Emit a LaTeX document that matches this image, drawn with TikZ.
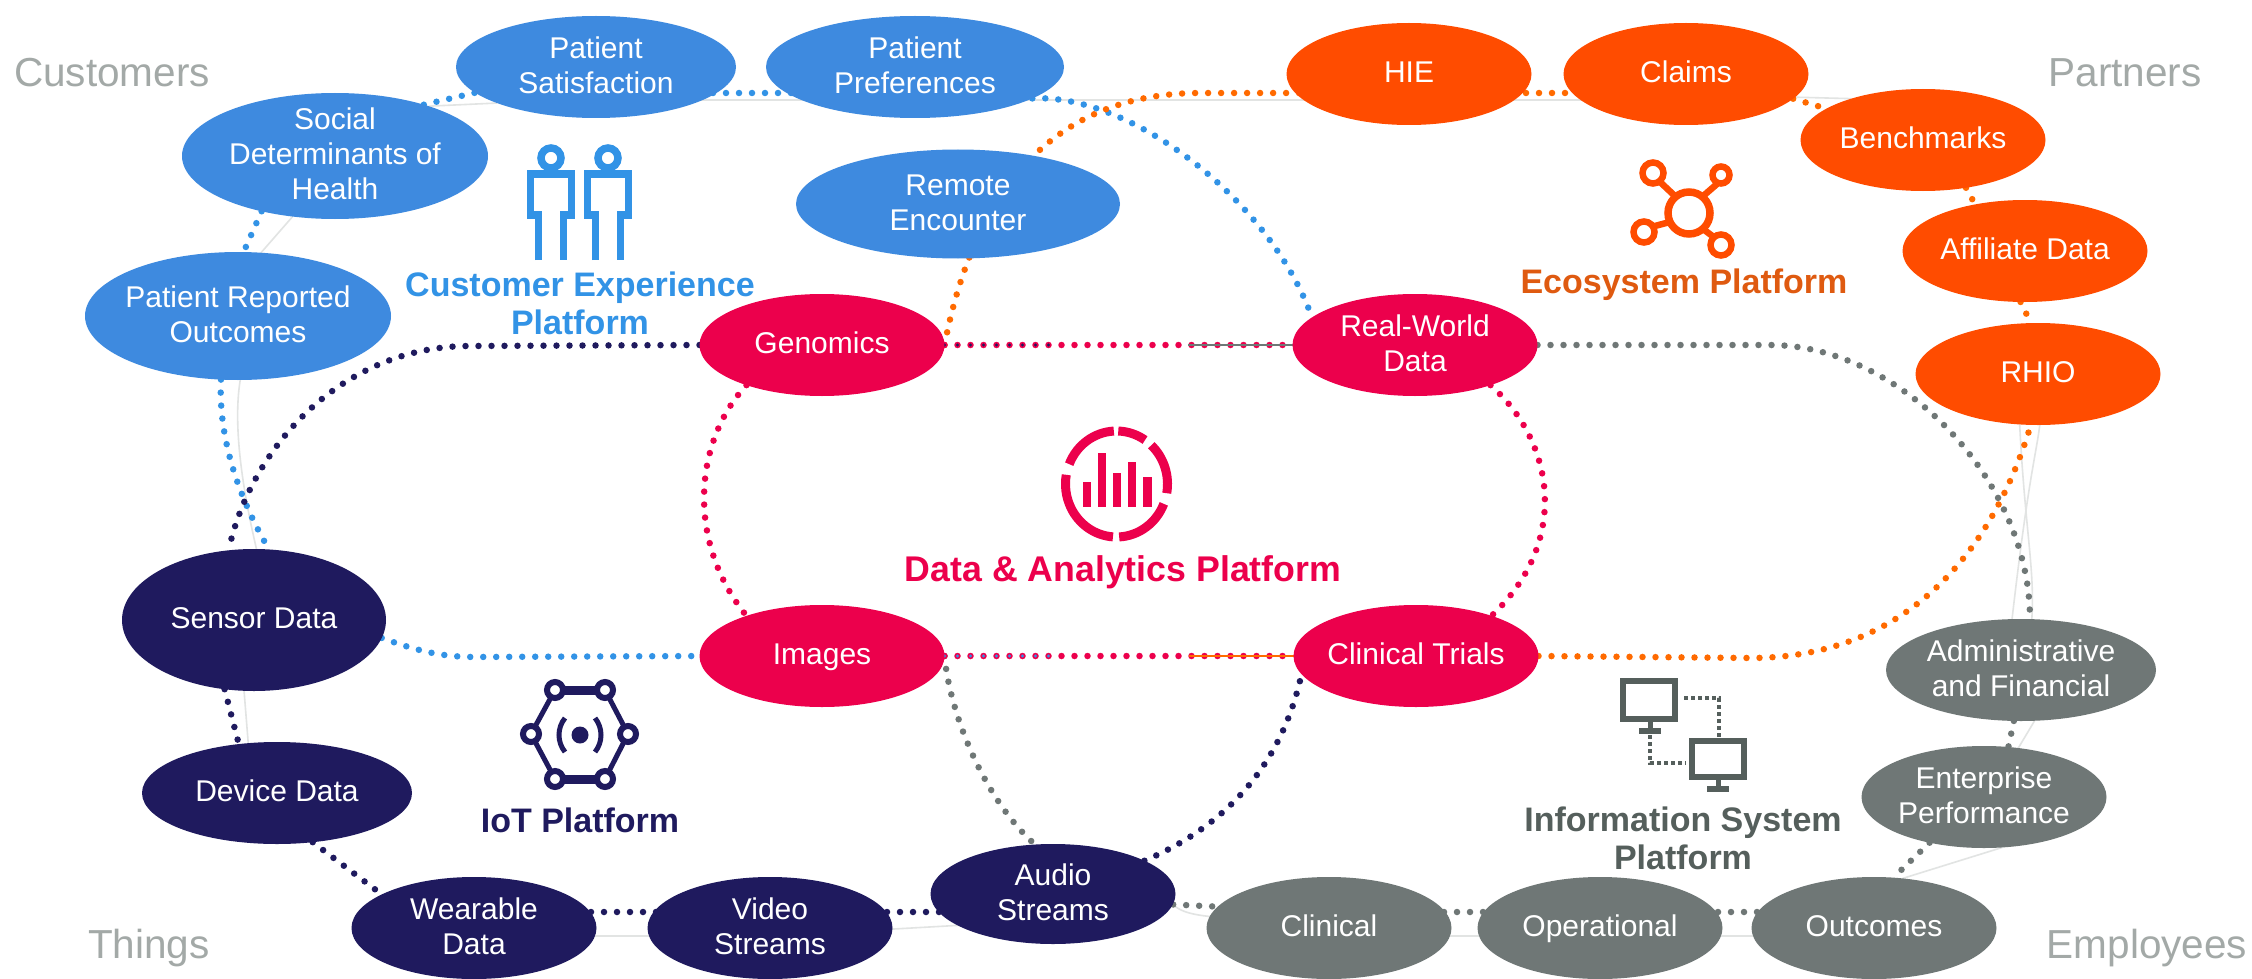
\documentclass[tikz,border=0pt]{standalone}
\usepackage{fontspec}
\setmainfont{Liberation Sans}
\usetikzlibrary{shapes.geometric}
\pgfdeclarelayer{bg}
\pgfsetlayers{bg,main}
\definecolor{cblue}{HTML}{3E8ADF}
\definecolor{dblue}{HTML}{3293E6}
\definecolor{corange}{HTML}{FF4C00}
\definecolor{dorange}{HTML}{FF6A00}
\definecolor{torange}{HTML}{DF5A10}
\definecolor{cpink}{HTML}{EC004C}
\definecolor{cnavy}{HTML}{1F1A5E}
\definecolor{cgray}{HTML}{6F7776}
\definecolor{tgray}{HTML}{555F5C}
\definecolor{lgray}{HTML}{A3A9A7}
\definecolor{fgray}{HTML}{E2E4E3}
\newcommand{\pilltext}[1]{\raisebox{-0.53em}{\smash{\makebox[0pt]{\begin{tabular}[c]{@{}c@{}}#1\end{tabular}}}}}
\tikzset{
  pill/.style={ellipse,inner sep=0pt,outer sep=0pt,text=white,font=\fontsize{30}{35}\selectfont},
  bluepill/.style={pill,fill=cblue},
  orangepill/.style={pill,fill=corange},
  pinkpill/.style={pill,fill=cpink},
  navypill/.style={pill,fill=cnavy},
  graypill/.style={pill,fill=cgray},
  corner/.style={anchor=base,inner sep=0pt,text=lgray,font=\fontsize{40.5}{44}\selectfont},
  platform/.style={align=center,inner sep=0pt,font=\fontsize{34}{38}\selectfont\bfseries},
  dots/.style={line width=6.5pt,line cap=round,dash pattern=on 0pt off 13pt},
  thindots/.style={line width=3.2pt,line cap=round,dash pattern=on 0pt off 13pt},
  faint/.style={line width=1.6pt,fgray},
}
\begin{document}
\begin{tikzpicture}[x=1pt,y=-1pt]
\useasboundingbox (0,0) rectangle (2252,979);
% --- ellipses
\node[bluepill,minimum width=280pt,minimum height=102pt] (sat) at (596,67) {\pilltext{Patient\\Satisfaction}};
\node[bluepill,minimum width=298pt,minimum height=102pt] (pref) at (915,67) {\pilltext{Patient\\Preferences}};
\node[bluepill,minimum width=306pt,minimum height=126pt] (soc) at (335,156) {\pilltext{Social\\Determinants of\\Health}};
\node[bluepill,minimum width=306pt,minimum height=128pt] (pro) at (238,316) {\pilltext{Patient Reported\\Outcomes}};
\node[bluepill,minimum width=324pt,minimum height=109pt] (rem) at (958,204) {\pilltext{Remote\\Encounter}};
\node[orangepill,minimum width=245pt,minimum height=102pt] (hie) at (1409,74) {\pilltext{HIE}};
\node[orangepill,minimum width=245pt,minimum height=102pt] (claims) at (1686,74) {\pilltext{Claims}};
\node[orangepill,minimum width=245pt,minimum height=102pt] (bench) at (1923,140) {\pilltext{Benchmarks}};
\node[orangepill,minimum width=245pt,minimum height=102pt] (aff) at (2025,251) {\pilltext{Affiliate Data}};
\node[orangepill,minimum width=245pt,minimum height=102pt] (rhio) at (2038,374) {\pilltext{RHIO}};
\node[pinkpill,minimum width=245pt,minimum height=102pt] (gen) at (822,345) {\pilltext{Genomics}};
\node[pinkpill,minimum width=245pt,minimum height=102pt] (rw) at (1415,345) {\pilltext{Real-World\\Data}};
\node[pinkpill,minimum width=245pt,minimum height=102pt] (img) at (822,656) {\pilltext{Images}};
\node[pinkpill,minimum width=245pt,minimum height=102pt] (tri) at (1416,656) {\pilltext{Clinical Trials}};
\node[navypill,minimum width=264pt,minimum height=142pt] (sensor) at (254,620) {\pilltext{Sensor Data}};
\node[navypill,minimum width=270pt,minimum height=102pt] (dev) at (277,793) {\pilltext{Device Data}};
\node[navypill,minimum width=245pt,minimum height=102pt] (wear) at (474,928) {\pilltext{Wearable\\Data}};
\node[navypill,minimum width=245pt,minimum height=102pt] (vid) at (770,928) {\pilltext{Video\\Streams}};
\node[navypill,minimum width=245pt,minimum height=100pt] (aud) at (1053,894) {\pilltext{Audio\\Streams}};
\node[graypill,minimum width=245pt,minimum height=102pt] (clin) at (1329,928) {\pilltext{Clinical}};
\node[graypill,minimum width=245pt,minimum height=102pt] (oper) at (1600,928) {\pilltext{Operational}};
\node[graypill,minimum width=245pt,minimum height=102pt] (out) at (1874,928) {\pilltext{Outcomes}};
\node[graypill,minimum width=270pt,minimum height=102pt] (adm) at (2021,670) {\pilltext{Administrative\\and Financial}};
\node[graypill,minimum width=245pt,minimum height=102pt] (ent) at (1984,797) {\pilltext{Enterprise\\Performance}};
% --- labels
\node[corner] (lcust) at (112,87) {Customers};
\node[corner] (lpart) at (2125,87) {Partners};
\node[corner] (lthin) at (149,958) {Things};
\node[corner] (lempl) at (2147,958) {Employees};
\node[platform,text=dblue] (pcust) at (580,303) {Customer Experience\\Platform};
\node[platform,text=torange] (peco) at (1684,285) {Ecosystem Platform};
\node[platform,text=cpink,font=\fontsize{35.7}{38}\selectfont\bfseries] (pdata) at (1123,572) {Data \& Analytics Platform};
\node[platform,text=cnavy] (piot) at (580,820) {IoT Platform};
\node[platform,text=tgray] (pinfo) at (1683,838) {Information System\\Platform};
% --- connectors behind the ellipses
\begin{pgfonlayer}{bg}
  \fill[white] (0,0) rectangle (2252,979);
  % faint outline pieces
  \draw[faint] ([yshift=-33pt]sat.center) -- ([yshift=-26pt]claims.center);
  \draw[faint] (sat.200) -- (soc.28);
  \draw[faint] (soc.235) -- (pro.70);
  \draw[faint] (pro.272) .. controls (232,430) and (245,500) .. (sensor.88);
  \draw[faint] (sensor.262) -- (dev.120);
  \draw[faint] ([yshift=-8pt]wear.center) -- ([yshift=-8pt]vid.center) -- ([yshift=-26pt]aud.center);
  \draw[faint] ([yshift=-8pt]clin.center) -- ([yshift=-8pt]out.center);
  \draw[faint] (aud.-5) .. controls (1185,915) and (1200,920) .. ([yshift=8pt]clin.center);
  \draw[faint] (out.60) -- (ent.-70);
  \draw[faint] (ent.55) -- (adm.-75);
  \draw[faint] (adm.78) .. controls (2035,570) and (2025,530) .. (rhio.-110);
  \draw[faint] (rhio.-88) .. controls (2036,455) and (2028,480) .. (adm.100);
  \draw[faint] (claims.-12) -- (bench.150);
  % gray platform
  \draw[dots,cgray] (rw.east) -- (1770,345) .. controls (1900,345) and (2030,480) .. (adm.80);
  \draw[dots,cgray] (adm.262) -- (ent.64);
  \draw[dots,cgray] (ent.220) -- (out.69);
  \draw[dots,cgray] ([yshift=16pt]out.center) -- ([yshift=16pt]oper.center);
  \draw[dots,cgray] ([yshift=16pt]oper.center) -- ([yshift=16pt]clin.center);
  \draw[dots,cgray] ([yshift=16pt]clin.center) -- (aud.-5);
  \draw[dots,cgray] (img.east) .. controls (950,715) and (985,800) .. (aud.110);
  % blue platform
  \draw[dots,dblue] (soc.30) -- (sat.192);
  \draw[dots,dblue] ([yshift=-26pt]sat.center) -- ([yshift=-26pt]pref.center);
  \draw[dots,dblue] (pref.-15) .. controls (1130,93) and (1270,200) .. (rw.165);
  \draw[dots,dblue] (soc.217) -- (pro.85);
  \draw[dots,dblue] (pro.255) .. controls (218,440) and (240,500) .. (sensor.78);
  \draw[dots,dblue] (sensor.-8) .. controls (415,650) and (440,657) .. (475,657) -- (img.west);
  % navy platform
  \draw[dots,cnavy] (gen.west) -- (470,346) .. controls (340,346) and (250,450) .. (sensor.110);
  \draw[dots,cnavy] (sensor.247) -- (dev.128);
  \draw[dots,cnavy] (dev.-54) -- (wear.160);
  \draw[dots,cnavy] ([yshift=16pt]wear.center) -- ([yshift=16pt]vid.center);
  \draw[dots,cnavy] ([yshift=16pt]vid.center) -- ([yshift=-18pt]aud.center);
  \draw[dots,cnavy] (aud.20) .. controls (1240,820) and (1285,750) .. (tri.189);
  % orange platform
  \draw[dots,dorange] (gen.east) .. controls (965,240) and (1020,93) .. (1200,93) -- ([yshift=-19pt]hie.center);
  \draw[dots,dorange] ([yshift=-19pt]hie.center) -- ([yshift=-19pt]claims.center);
  \draw[dots,dorange] (claims.-13) -- (bench.162);
  \draw[dots,dorange] (bench.-48) -- (aff.137);
  \draw[dots,dorange] (aff.265) -- (rhio.98);
  \draw[dots,dorange] (tri.east) -- (1750,658) .. controls (1900,658) and (1990,560) .. (rhio.262);
  % pink platform
  \draw[dots,cpink] (gen.east) -- (rw.west);
  \draw[dots,cpink] (img.east) -- (tri.west);
  \draw[dots,cpink] (gen.208) .. controls (695,440) and (685,540) .. (img.152);
  \draw[dots,cpink] (rw.-28) .. controls (1553,440) and (1572,540) .. (tri.28);
  % other platforms' dots showing through the pink ones
  \draw[thindots,cnavy] (gen.east) -- ++(115,0);
  \draw[thindots,dblue] (img.east) -- ++(115,0);
  \draw[line width=1.6pt,cgray] (rw.west) -- ++(-105,0);
  \draw[line width=1.6pt,dorange] (tri.west) -- ++(-105,0);
\end{pgfonlayer}
% --- customer icon
\begin{scope}[dblue]
  \foreach \px in {551,608}{
    \draw[line width=7.5pt] (\px,158) circle[radius=10pt];
    \draw[line width=7.5pt] (\px-12.5,260) -- (\px-12.5,215) -- (\px-20.5,215) -- (\px-20.5,174) -- (\px+20.5,174) -- (\px+20.5,215) -- (\px+12.5,215) -- (\px+12.5,260);
  }
\end{scope}
% --- ecosystem icon
\begin{scope}[corange]
  \draw[line width=6.5pt] (1659,181) -- (1676,197);
  \draw[line width=6.5pt] (1717,184) -- (1702,197);
  \draw[line width=6.5pt] (1651,227) -- (1670,222);
  \draw[line width=6.5pt] (1715,238) -- (1703,229);
  \draw[line width=7.5pt] (1689,213) circle[radius=21pt];
  \draw[line width=6.5pt,fill=white] (1653,173) circle[radius=10.5pt];
  \draw[line width=6.5pt,fill=white] (1721,175) circle[radius=8.5pt];
  \draw[line width=6.5pt,fill=white] (1644,232) circle[radius=10.5pt];
  \draw[line width=6.5pt,fill=white] (1721,245) circle[radius=10.5pt];
\end{scope}
% --- data icon
\begin{scope}[cpink,line width=9pt]
  \foreach \aa/\ab in {94/190,202/267,272/304,313/370,382/447}{
    \draw (1116.5,484) ++(\aa:51pt and -53pt) arc[start angle=-\aa,end angle=-\ab,x radius=51pt,y radius=53pt];
  }
  \fill (1082.5,482) rectangle (1091,507);
  \fill (1097.5,453) rectangle (1106,507);
  \fill (1112.5,473) rectangle (1121,507);
  \fill (1127.5,462) rectangle (1136,507);
  \fill (1143,477) rectangle (1151.5,507);
\end{scope}
% --- IoT icon
\begin{scope}[cnavy]
  \draw[line width=5pt] (555,690) -- (531,734) -- (555,779) (605,690) -- (628,734) -- (605,779);
  \draw[line width=9pt] (555,690) -- (605,690) (555,779) -- (605,779);
  \foreach \qx/\qy in {555/690,605/690,628/734,605/779,555/779,531/734}{
    \draw[line width=6pt,fill=white] (\qx,\qy) circle[radius=8pt];
  }
  \fill (580,735) circle[radius=8.5pt];
  \draw[line width=5pt] (565,718) .. controls (557,728) and (557,742) .. (565,752);
  \draw[line width=5pt] (595,718) .. controls (603,728) and (603,742) .. (595,752);
\end{scope}
% --- information system icon
\begin{scope}[tgray]
  \draw[line width=6pt] (1623,681) rectangle (1675,719);
  \draw[line width=6pt] (1692,741) rectangle (1744,777);
  \draw[line width=5pt] (1650,721) -- (1650,733);
  \draw[line width=6pt] (1639,731) -- (1661,731);
  \draw[line width=5pt] (1718,779) -- (1718,789);
  \draw[line width=6pt] (1707,789) -- (1729,789);
  \draw[line width=4pt,dash pattern=on 4pt off 3pt] (1684,698) -- (1719,698) -- (1719,737);
  \draw[line width=4pt,dash pattern=on 4pt off 3pt] (1650,735) -- (1650,763) -- (1686,763);
\end{scope}
\end{tikzpicture}
\end{document}
